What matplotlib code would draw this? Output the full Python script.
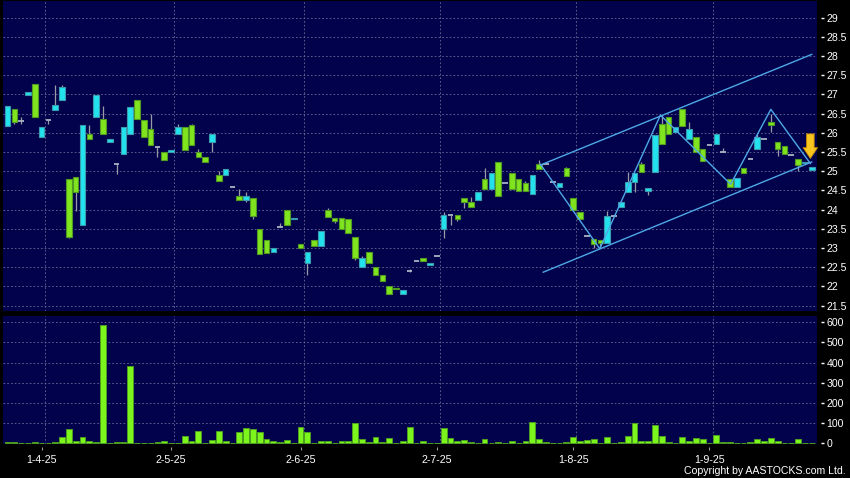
import numpy as np
import matplotlib.pyplot as plt

plt.rcParams['font.family'] = ['Liberation Sans', 'DejaVu Sans']

# daily candles, index 1..119 (open, close, high, low)
opens = [26.18, 26.63, 26.30, 26.97, 27.28, 25.88, 26.33, 26.58, 26.86, 24.79,
         24.84, 23.59, 25.98, 26.42, 26.37, 25.77, 25.18, 25.44, 25.98, 26.86,
         26.32, 26.09, 25.64, 25.49, 25.50, 25.98, 26.14, 26.19, 25.49, 25.38,
         25.77, 24.89, 24.89, 24.58, 24.35, 24.24, 24.29, 23.49, 23.20, 22.89,
         23.54, 23.98, 23.75, 23.10, 22.61, 23.20, 23.04, 23.98, 23.79, 23.79,
         23.75, 23.28, 22.50, 22.89, 22.50, 22.30, 22.00, 21.95, 21.80, 22.41,
         22.67, 22.74, 22.55, 22.79, 23.49, 23.86, 23.87, 24.29, 24.19, 24.24,
         24.79, 24.53, 25.23, 24.68, 24.94, 24.79, 24.68, 24.40, 25.18, 25.18,
         24.73, 24.58, 25.07, 24.29, 23.93, 23.31, 23.23, 23.20, 23.13, 23.84,
         24.06, 24.47, 24.73, 25.18, 24.48, 24.97, 26.24, 26.41, 26.02, 26.63,
         25.83, 25.88, 25.59, 25.69, 25.72, 25.49, 24.79, 24.58, 25.07, 25.31,
         25.59, 25.84, 26.27, 25.75, 25.66, 25.41, 25.31, 25.20, 25.03]
closes = [26.69, 26.27, 26.30, 27.07, 26.42, 26.14, 26.33, 26.73, 27.18, 23.28,
          24.45, 26.19, 25.83, 26.97, 25.98, 25.83, 25.18, 26.14, 26.68, 26.37,
          25.88, 25.67, 25.64, 25.28, 25.54, 26.14, 25.54, 25.67, 25.38, 25.23,
          25.98, 24.74, 25.05, 24.58, 24.25, 24.35, 23.84, 22.84, 22.88, 22.99,
          23.54, 23.59, 23.79, 23.00, 22.89, 23.04, 23.45, 23.80, 23.70, 23.49,
          23.39, 22.74, 22.74, 22.61, 22.30, 22.14, 21.80, 21.92, 21.90, 22.41,
          22.67, 22.66, 22.61, 22.79, 23.85, 23.86, 23.75, 24.19, 24.08, 24.45,
          24.53, 24.94, 24.35, 24.68, 24.53, 24.48, 24.48, 24.89, 25.05, 25.18,
          24.73, 24.68, 24.88, 23.99, 23.75, 23.31, 23.10, 23.13, 23.84, 23.84,
          24.19, 24.73, 24.96, 24.99, 24.55, 25.95, 25.70, 25.96, 26.15, 26.17,
          26.11, 25.50, 25.27, 25.69, 25.98, 25.49, 24.60, 24.81, 24.94, 25.31,
          25.89, 25.84, 26.20, 25.57, 25.46, 25.41, 25.16, 25.25, 25.10]
highs = [26.69, 26.63, 26.41, 27.07, 27.28, 26.14, 26.33, 27.24, 27.24, 24.79,
         24.84, 26.19, 26.19, 26.97, 26.70, 25.83, 25.18, 26.14, 26.68, 26.86,
         26.32, 26.49, 25.64, 25.49, 25.54, 26.22, 26.14, 26.22, 25.59, 25.38,
         25.98, 25.00, 25.05, 24.58, 24.53, 24.47, 24.29, 23.49, 23.20, 22.99,
         23.64, 23.98, 23.79, 23.10, 22.89, 23.20, 23.45, 24.04, 23.79, 23.79,
         23.75, 23.28, 22.80, 22.89, 22.50, 22.30, 22.00, 21.95, 21.90, 22.45,
         22.67, 22.74, 22.61, 22.79, 23.93, 23.86, 23.87, 24.29, 24.34, 24.45,
         25.07, 24.94, 25.23, 24.68, 24.94, 24.79, 24.74, 24.89, 25.28, 25.18,
         24.73, 24.68, 25.12, 24.29, 23.93, 23.31, 23.23, 23.20, 23.97, 23.84,
         24.19, 24.99, 24.96, 25.25, 24.55, 25.95, 26.46, 26.41, 26.15, 26.63,
         26.28, 25.88, 25.59, 25.69, 25.98, 25.60, 24.79, 24.81, 25.07, 25.31,
         25.98, 25.84, 26.50, 25.75, 25.66, 25.41, 25.31, 25.25, 25.10]
lows = [26.18, 26.22, 26.22, 26.97, 26.42, 25.88, 26.22, 26.58, 26.86, 23.26,
        23.97, 23.59, 25.83, 26.42, 25.98, 25.77, 24.93, 25.44, 25.98, 26.37,
        25.88, 25.67, 25.38, 25.28, 25.50, 25.98, 25.54, 25.67, 25.38, 25.23,
        25.49, 24.74, 24.89, 24.58, 24.25, 24.19, 23.75, 22.84, 22.88, 22.89,
        23.54, 23.59, 23.75, 23.00, 22.29, 23.04, 23.04, 23.80, 23.65, 23.49,
        23.39, 22.68, 22.50, 22.61, 22.30, 22.14, 21.80, 21.92, 21.80, 22.38,
        22.67, 22.66, 22.55, 22.79, 23.25, 23.60, 23.70, 24.03, 24.08, 24.24,
        24.53, 24.53, 24.35, 24.68, 24.53, 24.48, 24.48, 24.40, 25.05, 25.18,
        24.73, 24.58, 24.88, 23.99, 23.75, 23.31, 23.00, 23.00, 23.13, 23.84,
        24.06, 24.47, 24.47, 24.99, 24.37, 24.97, 25.70, 25.96, 26.02, 26.17,
        25.83, 25.50, 25.27, 25.69, 25.72, 25.49, 24.60, 24.58, 24.94, 25.31,
        25.59, 25.84, 26.02, 25.40, 25.46, 25.41, 25.00, 25.20, 25.03]
volumes = [5, 5, 2, 1, 6, 1, 1, 5, 31, 69,
           10, 34, 10, 5, 584, 1, 7, 7, 383, 1,
           1, 1, 5, 10, 3, 2, 35, 13, 61, 1,
           17, 59, 11, 1, 58, 78, 71, 58, 21, 10,
           8, 17, 1, 80, 58, 1, 11, 11, 2, 11,
           13, 102, 24, 6, 31, 6, 28, 1, 10, 80,
           1, 11, 1, 1, 77, 28, 13, 17, 6, 1,
           24, 1, 5, 2, 11, 2, 13, 107, 24, 8,
           1, 1, 6, 31, 13, 17, 24, 1, 30, 1,
           6, 36, 100, 13, 11, 91, 36, 8, 1, 31,
           13, 26, 21, 1, 41, 8, 8, 1, 2, 8,
           21, 11, 28, 13, 1, 1, 21, 1, 1]

date_labels = ['1-4-25', '2-5-25', '2-6-25', '2-7-25', '1-8-25', '1-9-25']
date_index = [6, 25, 44, 64, 84, 104]

# drawn lines (candle index, price)
upper_x, upper_y = [79.2, 119.0], [25.16, 28.04]
lower_x, lower_y = [79.6, 119.0], [22.37, 25.24]
zigzag_x = [79.2, 87.9, 96.8, 107.1, 113.0, 118.8]
zigzag_y = [25.18, 22.98, 26.46, 24.66, 26.61, 25.20]
arrow_x, arrow_top, arrow_tip = 118.8, 25.97, 25.33

price_ticks = np.arange(21.5, 29.01, 0.5)
vol_ticks = [0, 100, 200, 300, 400, 500, 600]

navy = '#02024c'
grid_c = '#6a6a98'
green, green_edge = '#80e41e', '#4f9a22'
cyan, cyan_edge = '#22e2ee', '#3a9aae'

x = np.arange(1, len(opens) + 1)
o = np.array(opens); c = np.array(closes)

fig = plt.figure(figsize=(8.5, 4.78), dpi=100, facecolor='black')
W, H = 850, 478
ax = fig.add_axes([3.3 / W, 1 - 311 / H, 813.4 / W, 310 / H], facecolor=navy)
ax2 = fig.add_axes([3.3 / W, 1 - 444 / H, 813.4 / W, 128 / H], facecolor=navy)

for a in (ax, ax2):
    a.set_xlim(0.38, 119.73)
    for s in a.spines.values():
        s.set_visible(False)
    a.spines['right'].set_position(('outward', 3.2))
    a.spines['bottom'].set_position(('outward', 2.2))
    for xv in date_index:
        a.axvline(xv + 0.45, color=grid_c, lw=0.6, dashes=(2, 2.5), zorder=0)
    a.yaxis.tick_right()
    a.tick_params(axis='y', colors='white', labelcolor='white', length=2,
                  width=1, pad=2, labelsize=7.6)

# price panel
ax.set_ylim(21.36, 29.43)
for yv in price_ticks:
    ax.axhline(yv, color=grid_c, lw=0.6, dashes=(2, 2.5), zorder=0)
ax.set_yticks(price_ticks)
ax.set_yticklabels(['%g' % v for v in price_ticks])
ax.set_xticks([])

ax.vlines(x, lows, highs, color='#9a9aa6', lw=0.9, zorder=2)
up = c > o
down = c < o
flat = c == o
ax.bar(x[up], (c - o)[up], bottom=o[up], width=0.82, color=cyan,
       edgecolor=cyan_edge, linewidth=0.8, zorder=3)
ax.bar(x[down], (o - c)[down], bottom=c[down], width=0.82, color=green,
       edgecolor=green_edge, linewidth=0.8, zorder=3)
ax.hlines(o[flat], x[flat] - 0.42, x[flat] + 0.42, color='#a8b4c4', lw=1.3, zorder=3)

line_c = '#4ea8e6'
ax.plot(upper_x, upper_y, color=line_c, lw=1.0, zorder=4)
ax.plot(lower_x, lower_y, color=line_c, lw=1.0, zorder=4)
ax.plot(zigzag_x, zigzag_y, color=line_c, lw=1.0, zorder=4)
ax.annotate('', xy=(arrow_x, arrow_tip), xytext=(arrow_x, arrow_top),
            arrowprops=dict(arrowstyle='simple,head_length=0.6,head_width=0.8,tail_width=0.42',
                            mutation_scale=13, shrinkA=0, shrinkB=0,
                            fc='#f7c51e', ec='#c88a00', lw=0.6),
            zorder=5)

# volume panel
ax2.set_ylim(-3, 631)
for yv in vol_ticks[1:]:
    ax2.axhline(yv, color=grid_c, lw=0.6, dashes=(2, 2.5), zorder=0)
ax2.set_yticks(vol_ticks)
ax2.set_yticklabels([str(v) for v in vol_ticks])
ax2.bar(x, volumes, width=0.85, color='#7cf51c', edgecolor='#4c9e20',
        linewidth=0.7, zorder=3)
ax2.set_xticks(date_index)
ax2.set_xticklabels(date_labels)
ax2.tick_params(axis='x', colors='#9a9a9a', labelcolor='white', length=2.5,
                width=0.8, pad=3, labelsize=7.7)

fig.text(846 / W, 1 - 470.5 / H, 'Copyright by AASTOCKS.com Ltd.', color='white',
         fontsize=7.6, ha='right', va='center')

fig.savefig('out.png', dpi=100, facecolor='black')
